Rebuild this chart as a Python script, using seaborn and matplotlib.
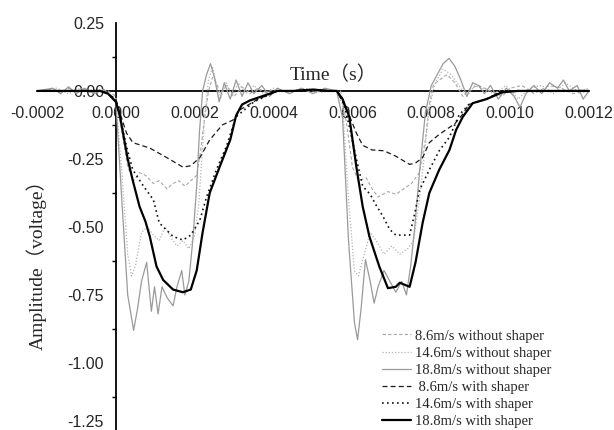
import numpy as np
import matplotlib
matplotlib.use("Agg")
import matplotlib.pyplot as plt
import seaborn as sns
from matplotlib.ticker import MultipleLocator, FixedLocator

# ---------------- data (time in microseconds, amplitude in volts) ----------------
t_86_wo = [-200,-160,-140,-120,-100,-80,-60,-40,-20,0,15,30,45,60,75,95,110,130,145,160,
           175,190,205,215,225,235,245,255,265,280,300,320,340,360,380,400,430,460,500,540,
           570,585,600,615,635,650,665,690,710,730,750,770,785,795,805,820,840,860,880,900,
           920,950,980,1000,1030,1060,1100,1130,1160,1200]
v_86_wo = [0,0.005,-0.01,0.01,-0.005,0.008,-0.01,0.005,0,-0.02,-0.15,-0.28,-0.33,-0.30,-0.31,-0.34,-0.33,-0.36,-0.34,-0.33,
           -0.35,-0.33,-0.31,-0.22,-0.10,0.0,0.05,0.03,-0.01,0.02,-0.02,0.015,-0.01,0.01,-0.005,0.005,-0.005,0.005,0,0.005,
           0,-0.12,-0.28,-0.33,-0.32,-0.36,-0.39,-0.37,-0.38,-0.36,-0.34,-0.30,-0.18,-0.05,0.02,0.04,0.06,0.03,-0.02,0.01,
           0.02,0.0,-0.02,0.01,0.02,-0.01,0.02,0.01,-0.01,0]

t_146_wo = [-200,-150,-120,-90,-60,-30,0,15,30,40,50,65,80,95,110,125,140,155,170,185,
            200,210,218,226,235,245,255,265,280,295,310,330,350,375,400,440,480,520,560,575,
            590,605,615,630,645,660,680,700,720,740,755,770,785,795,810,830,850,870,890,910,
            930,960,990,1020,1050,1080,1110,1140,1170,1200]
v_146_wo = [0,0.01,-0.01,0.01,-0.005,0.005,-0.03,-0.3,-0.6,-0.68,-0.64,-0.52,-0.50,-0.53,-0.55,-0.50,-0.54,-0.57,-0.55,-0.58,
            -0.53,-0.42,-0.25,-0.08,0.04,0.09,0.02,-0.03,0.03,-0.02,0.03,-0.01,0.02,-0.01,0.01,-0.005,0.01,-0.005,0,-0.05,
            -0.4,-0.66,-0.68,-0.6,-0.52,-0.55,-0.60,-0.57,-0.60,-0.58,-0.55,-0.40,-0.2,-0.06,0.03,0.08,0.06,0.02,-0.02,0.02,
            0.01,-0.01,0.02,-0.03,0.01,0.02,-0.01,0.03,0.0,0.01]

t_188_wo = [-200,-160,-140,-120,-100,-80,-55,-30,0,15,30,45,55,65,78,90,98,107,117,130,
            145,155,167,175,185,195,205,212,220,230,240,250,262,275,290,305,320,335,350,370,
            390,410,440,470,500,530,560,575,590,605,613,622,633,645,655,665,680,695,710,725,
            737,748,758,770,785,800,815,830,845,860,875,890,905,920,935,950,970,990,1010,1025,
            1040,1060,1080,1100,1120,1135,1150,1170,1185,1200]
v_188_wo = [0,0.01,-0.01,0.015,-0.01,0.01,-0.01,0.005,-0.04,-0.4,-0.75,-0.88,-0.80,-0.7,-0.63,-0.81,-0.72,-0.82,-0.72,-0.76,
            -0.79,-0.72,-0.66,-0.75,-0.70,-0.55,-0.35,-0.15,0.0,0.06,0.10,0.05,-0.04,0.03,-0.03,0.04,-0.02,0.03,-0.01,0.02,
            -0.02,0.01,-0.01,0.01,-0.01,0.01,0.0,-0.1,-0.55,-0.85,-0.915,-0.80,-0.62,-0.70,-0.78,-0.72,-0.66,-0.70,-0.74,-0.70,
            -0.75,-0.64,-0.50,-0.30,-0.08,0.02,0.06,0.10,0.12,0.09,0.04,-0.02,0.03,0.02,-0.01,0.02,-0.03,0.01,-0.02,-0.06,
            -0.01,0.02,-0.01,0.03,0.01,0.04,0.0,0.02,-0.03,0]

t_86_w = [-200,-100,-40,-20,0,10,27,43,86,129,170,190,213,238,270,297,314,357,410,450,
          500,540,560,575,592,610,626,650,680,710,745,760,778,795,820,860,880,895,940,980,
          1020,1100,1200]
v_86_w = [0,0,0,-0.01,-0.03,-0.08,-0.155,-0.19,-0.21,-0.245,-0.28,-0.275,-0.245,-0.18,-0.125,-0.107,-0.07,-0.033,0,0,
          0.005,0,0,-0.04,-0.09,-0.155,-0.2,-0.217,-0.22,-0.24,-0.27,-0.265,-0.245,-0.19,-0.16,-0.12,-0.085,-0.05,-0.03,0,
          0,0,0]

t_146_w = [-200,-100,-40,-20,0,10,27,43,70,95,110,145,170,190,213,230,255,280,305,350,
           410,450,500,540,560,575,592,610,626,645,660,677,695,710,745,758,770,795,820,846,
           870,895,940,980,1020,1100,1200]
v_146_w = [0,0,0,-0.01,-0.04,-0.09,-0.205,-0.29,-0.35,-0.40,-0.485,-0.535,-0.548,-0.53,-0.475,-0.39,-0.29,-0.205,-0.095,-0.04,
           0,0,0.005,0,0,-0.03,-0.13,-0.25,-0.35,-0.38,-0.42,-0.46,-0.51,-0.53,-0.53,-0.45,-0.365,-0.29,-0.22,-0.17,
           -0.09,-0.05,-0.03,0,0,0,0]

t_188_w = [-200,-100,-40,-20,0,10,20,30,43,60,75,86,103,120,145,170,190,205,220,238,
           263,290,305,320,340,370,410,450,500,540,560,575,592,610,626,643,668,690,710,720,
           745,760,778,795,820,846,863,880,905,940,980,1020,1100,1200]
v_188_w = [0,0,0,-0.01,-0.04,-0.09,-0.17,-0.25,-0.33,-0.425,-0.48,-0.535,-0.645,-0.695,-0.73,-0.74,-0.73,-0.66,-0.52,-0.375,
           -0.28,-0.18,-0.09,-0.05,-0.035,-0.02,0,0,0.005,0,0,-0.03,-0.095,-0.28,-0.425,-0.535,-0.645,-0.725,-0.72,-0.705,
           -0.72,-0.63,-0.485,-0.375,-0.29,-0.217,-0.143,-0.095,-0.045,-0.03,-0.005,0,0,0]

labels = ["8.6m/s without shaper", "14.6m/s without shaper", "18.8m/s without shaper",
          " 8.6m/s with shaper", "14.6m/s with shaper", "18.8m/s with shaper"]
x_ticks = [-0.0002, 0.0000, 0.0002, 0.0004, 0.0006, 0.0008, 0.0010, 0.0012]
x_ticklabels = ["-0.0002", "0.0000", "0.0002", "0.0004", "0.0006", "0.0008", "0.0010", "0.0012"]
y_ticks = [0.25, 0.00, -0.25, -0.50, -0.75, -1.00, -1.25]
y_ticklabels = ["0.25", "0.00", "-0.25", "-0.50", "-0.75", "-1.00", "-1.25"]

# ---------------- styling ----------------
sns.set_style("white")
plt.rcParams["font.family"] = ["Liberation Sans", "DejaVu Sans"]
serif = ["Liberation Serif", "Noto Sans CJK SC"]

fig = plt.figure(figsize=(6.14, 4.30), dpi=100)
ax = fig.add_axes([0.0603, -0.0023, 0.899, 0.949])

series = [
    (t_86_wo, v_86_wo, "#a8a8a8", (0, (3, 2)), 0.8),
    (t_146_wo, v_146_wo, "#b4b4b4", (0, (1, 1.5)), 0.9),
    (t_188_wo, v_188_wo, "#9a9a9a", "-", 0.9),
    (t_86_w, v_86_w, "#1a1a1a", (0, (4, 2.5)), 0.9),
    (t_146_w, v_146_w, "#111111", (0, (1, 2)), 1.2),
    (t_188_w, v_188_w, "#000000", "-", 1.6),
]
handles = []
for (tt, vv, col, ls, lw), lab in zip(series, labels):
    sns.lineplot(x=np.array(tt) * 1e-6, y=np.array(vv), ax=ax, color=col,
                 linestyle=ls, linewidth=lw, sort=False, estimator=None, legend=False)
    line = ax.lines[-1]
    line.set_label(lab)
    handles.append(line)

ax.set_xlim(-0.0002, 0.0012)
ax.set_ylim(-1.25, 0.25)

for s in ["top", "right"]:
    ax.spines[s].set_visible(False)
ax.spines["left"].set_position(("data", 0))
ax.spines["bottom"].set_position(("data", 0))
for s in ["left", "bottom"]:
    ax.spines[s].set_color("black")
    ax.spines[s].set_linewidth(1.3)
    ax.spines[s].set_zorder(1)

ax.xaxis.set_major_locator(FixedLocator(x_ticks))
ax.set_xticklabels(x_ticklabels)
ax.yaxis.set_major_locator(FixedLocator(y_ticks))
# the lowest label sits at the figure edge; draw it separately, nudged up to stay visible
ax.set_yticklabels(y_ticklabels[:-1] + [""])
ax.yaxis.set_minor_locator(MultipleLocator(0.125))

ax.tick_params(axis="x", which="major", direction="out", length=4.5, width=1.1,
               labelsize=11.5, pad=6, color="black")
ax.tick_params(axis="y", which="major", direction="out", length=5.5, width=1.1,
               labelsize=11.5, pad=3, color="black")
ax.tick_params(axis="y", which="minor", direction="out", length=3, width=1.0, color="black",
               left=True)
ax.grid(False)
ax.set_facecolor("none")

ax.annotate(y_ticklabels[-1], xy=(0, y_ticks[-1]), xycoords="data",
            xytext=(-8.5, 0.5), textcoords="offset points", ha="right", va="bottom",
            fontsize=11.5, annotation_clip=False)

fig.text(0.543, 0.826, "Time（s）", ha="center", va="center", fontsize=14, family=serif)
fig.text(0.060, 0.395, "Amplitude（voltage）", ha="center", va="center", fontsize=14,
         rotation=90, family=serif)

leg = fig.legend(handles=handles, labels=labels, loc="lower left",
                 bbox_to_anchor=(0.622, 0.004), frameon=False, borderpad=0,
                 borderaxespad=0, handlelength=2.0, handletextpad=0.25,
                 labelspacing=0.27, prop={"family": serif, "size": 10.5})

fig.savefig("out.png", dpi=100)
